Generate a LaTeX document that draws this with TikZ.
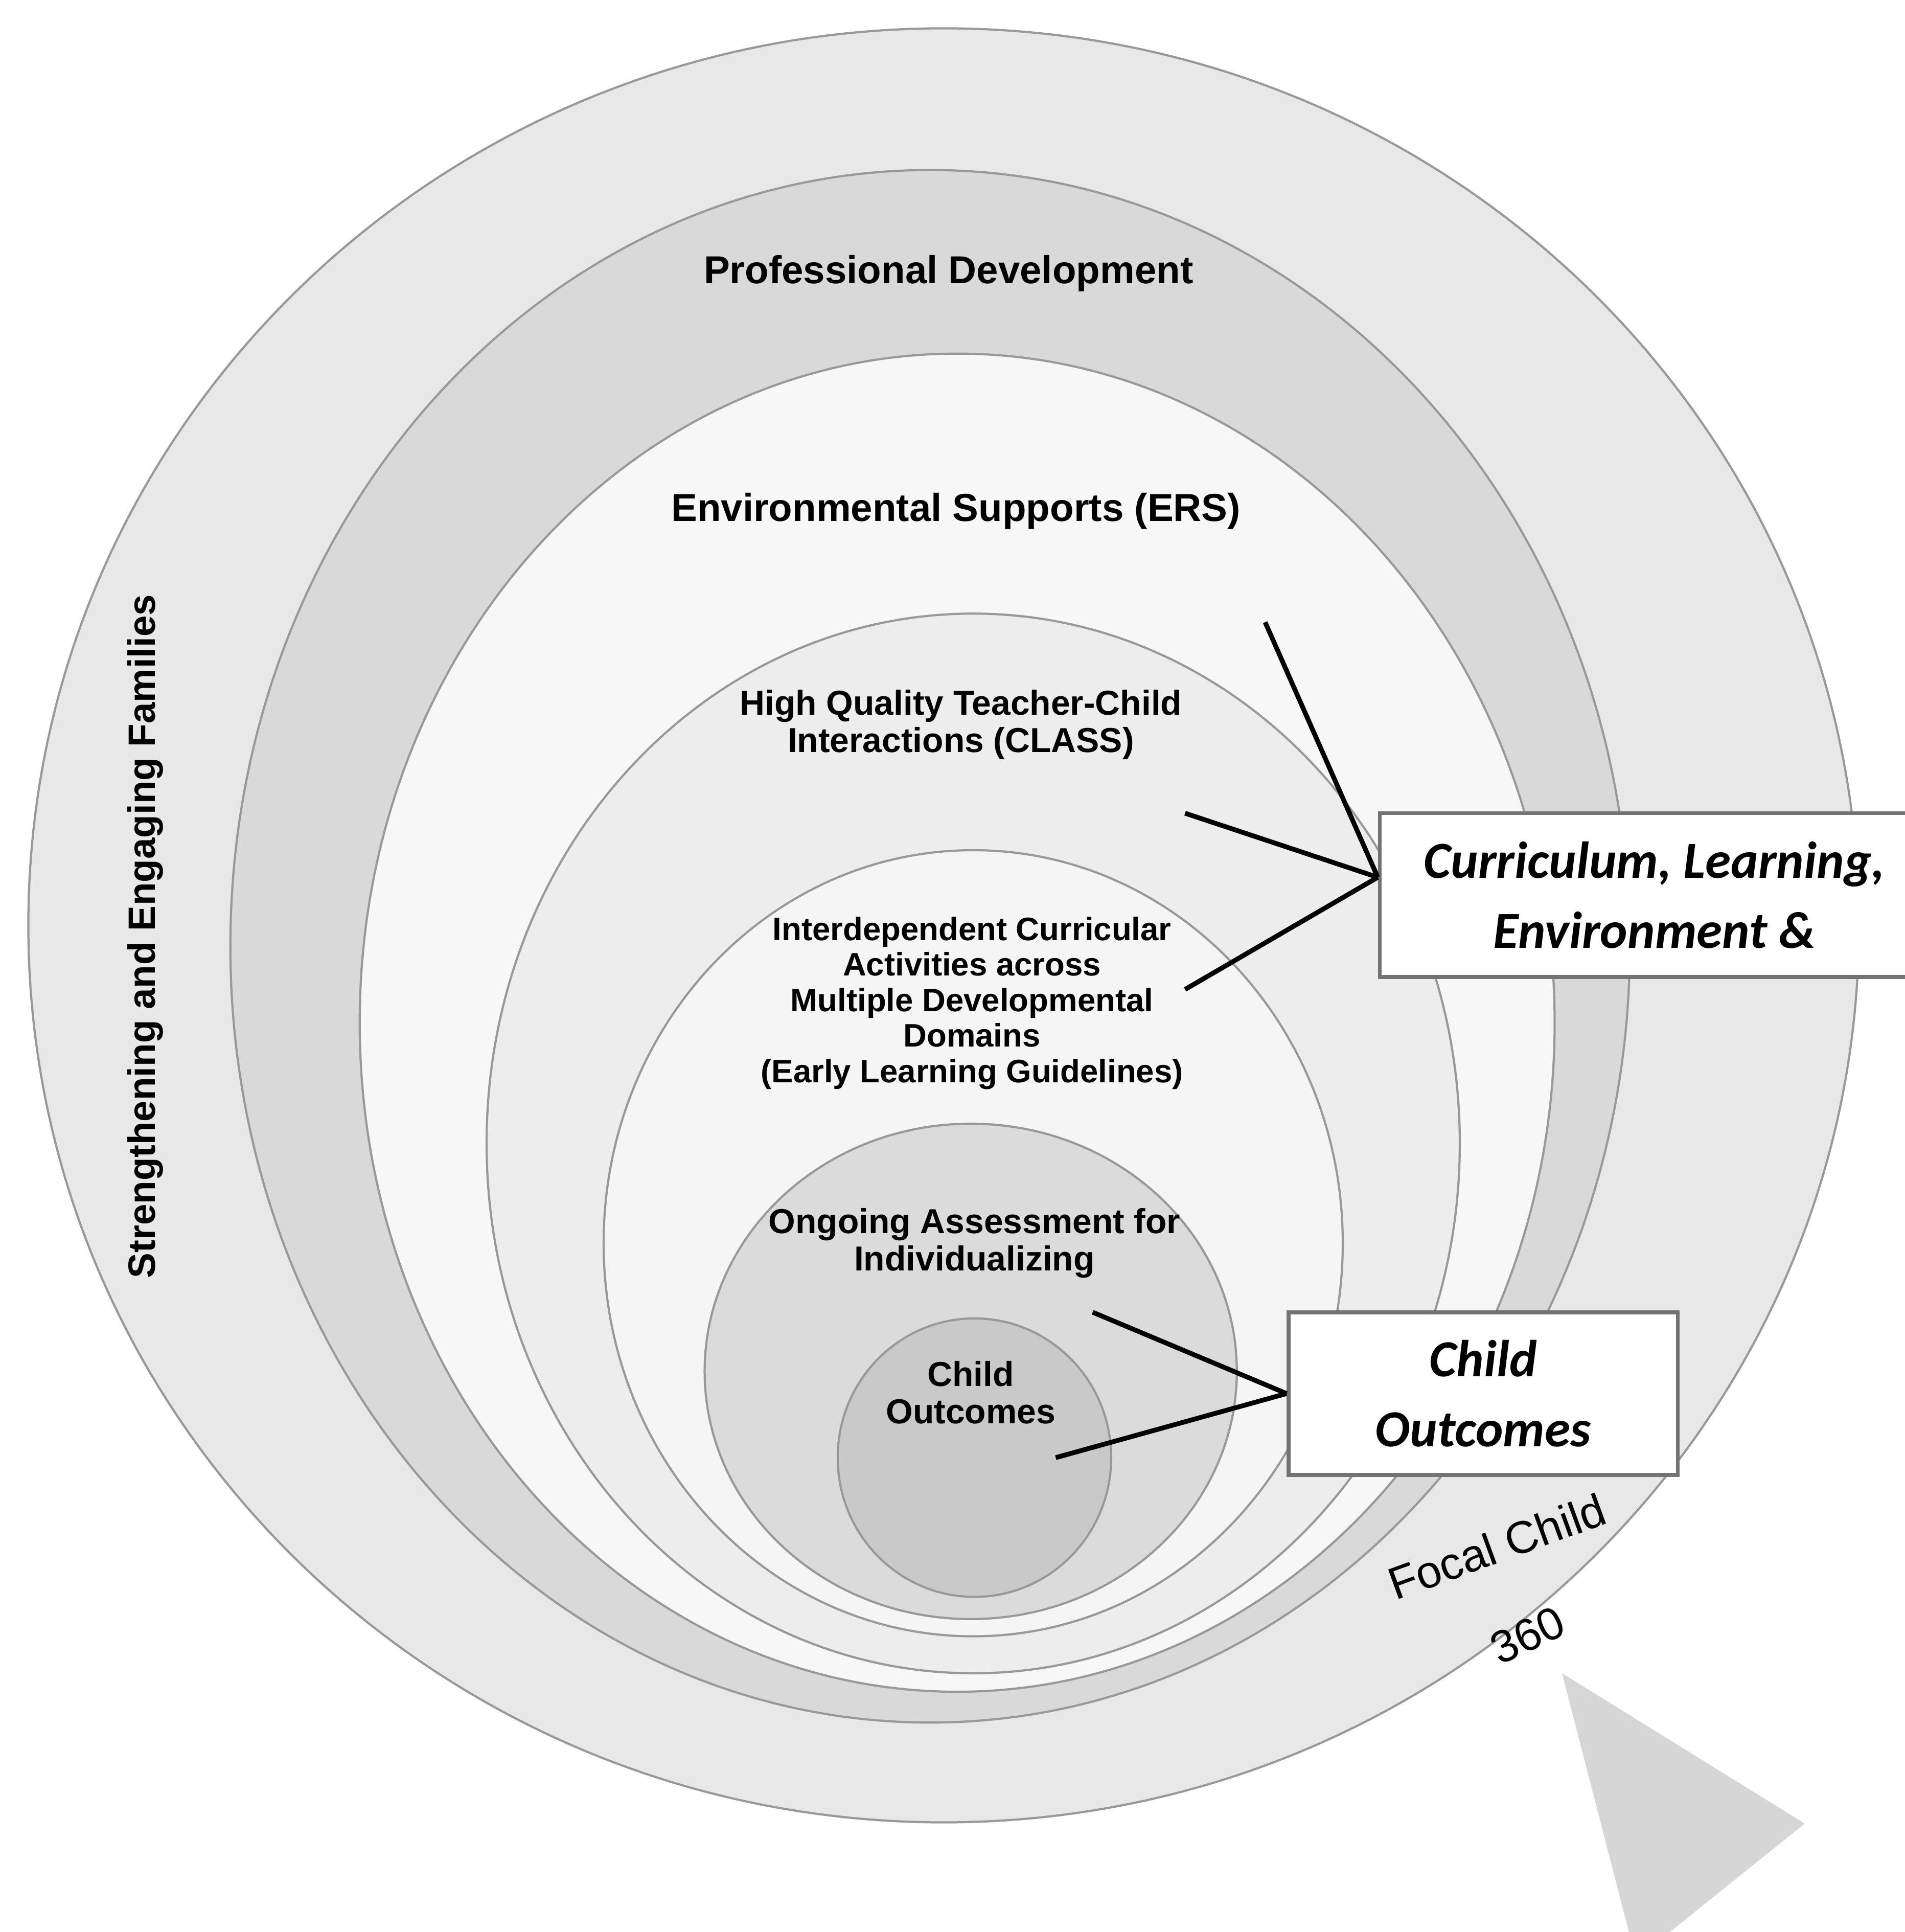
\documentclass[tikz,border=0pt]{standalone}
\usepackage{fontspec}
\setmainfont{Liberation Sans}
\newfontfamily\calibfont{Carlito}
\usepackage{tikz}

\begin{document}
\begin{tikzpicture}
        \tikzstyle{every node} = [inner sep=0pt, align=center]
        \tikzstyle{ring} = [draw=black!40, line width=0.5pt]
        \tikzstyle{lbl} = [font=\bfseries\fontsize{8}{8.6}\selectfont]
        \tikzstyle{big} = [font=\bfseries\fontsize{9}{10}\selectfont]
        \tikzstyle{callout} = [draw=black!55, line width=0.9pt, fill=white, font=\calibfont\bfseries\itshape\fontsize{12}{16.2}\selectfont]
        \tikzstyle{link} = [line width=1.1pt]
        \useasboundingbox (0,0) rectangle (15.46,-15.68);
        % rings, outermost first
        \foreach \cx/\cy/\rx/\ry/\tone in {7.66/-7.51/7.43/7.28/9, 7.55/-7.68/5.68/6.30/15,
                7.77/-8.30/4.85/5.43/3, 7.90/-9.28/3.95/4.30/7, 7.90/-10.09/3.00/3.19/4,
                7.88/-11.13/2.16/2.01/14, 7.91/-11.83/1.11/1.13/21}
            \filldraw[ring, fill=black!\tone] (\cx,\cy) ellipse [x radius=\rx, y radius=\ry];
        \fill[black!16] (12.68,-13.58) -- (14.65,-14.80) -- (13.28,-15.90) -- cycle;
        \node[big] (pd) at (7.70,-2.22) {Professional Development};
        \node[big] (ers) at (7.76,-4.15) {Environmental Supports (ERS)};
        \node[lbl] (hq) at (7.80,-5.88) {High Quality Teacher-Child\\Interactions (CLASS)};
        \node[lbl, font=\bfseries\fontsize{7.5}{8.2}\selectfont] (icad) at (7.89,-8.14)
            {Interdependent Curricular\\Activities across\\Multiple Developmental\\Domains\\(Early Learning Guidelines)};
        \node[lbl] (oa) at (7.91,-10.09) {Ongoing Assessment for\\Individualizing};
        \node[lbl] (co) at (7.88,-11.30) {Child\\Outcomes};
        \node[lbl, font=\bfseries\fontsize{8.8}{10}\selectfont, rotate=90] (sef) at (1.18,-7.60) {Strengthening and Engaging Families};
        \node[callout, minimum width=4.46cm, minimum height=1.33cm] (cle) at (13.43,-7.265) {Curriculum, Learning,\\Environment \&};
        \node[callout, minimum width=3.16cm, minimum height=1.32cm] (cob) at (12.04,-11.31) {Child\\Outcomes};
        \node[rotate=20, font=\fontsize{10.5}{12}\selectfont] (focal) at (12.15,-12.55) {Focal Child};
        \node[rotate=25, font=\fontsize{10.5}{12}\selectfont] (deg) at (12.40,-13.27) {360};
        \coordinate (ersEnd) at (10.27,-5.05);
        \coordinate (hqEnd) at (9.62,-6.60);
        \coordinate (icadEnd) at (9.62,-8.03);
        \coordinate (oaEnd) at (8.87,-10.65);
        \coordinate (coEnd) at (8.57,-11.83);
        \foreach \from in {ersEnd, hqEnd, icadEnd}
            \draw[link] (\from) -- ([yshift=1.45mm]cle.west);
        \foreach \from in {oaEnd, coEnd}
            \draw[link] (\from) -- (cob.west);
    \end{tikzpicture}
\end{document}
